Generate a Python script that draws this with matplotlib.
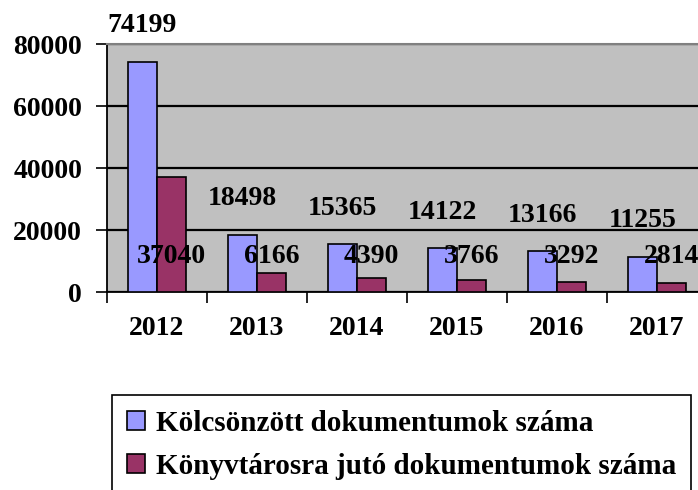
import numpy as np
import matplotlib
matplotlib.use('Agg')
import matplotlib.pyplot as plt

years = ['2012', '2013', '2014', '2015', '2016', '2017']
borrowed = [74199, 18498, 15365, 14122, 13166, 11255]
per_librarian = [37040, 6166, 4390, 3766, 3292, 2814]
series_names = ['Kölcsönzött dokumentumok száma',
                'Könyvtárosra jutó dokumentumok száma']

plt.rcParams['font.family'] = ['Liberation Serif', 'DejaVu Serif']
plt.rcParams['font.weight'] = 'bold'
plt.rcParams['font.size'] = 20

W, H = 698, 490
fig = plt.figure(figsize=(W / 100, H / 100), dpi=100)
# plot area runs past the right edge, like the cropped original
ax = fig.add_axes([107 / W, (H - 292) / H, 600 / W, 248 / H])
ax.set_facecolor('#C0C0C0')

x = np.arange(len(years))
w = 0.29
b1 = ax.bar(x - w / 2, borrowed, w, color='#9999FF', edgecolor='black', linewidth=1.2,
            label=series_names[0], zorder=3)
b2 = ax.bar(x + w / 2, per_librarian, w, color='#993366', edgecolor='black', linewidth=1.2,
            label=series_names[1], zorder=3)

for rect, v in zip(b1, borrowed):
    ax.annotate(str(v), (rect.get_x() + rect.get_width() / 2, v), xytext=(0, 26),
                textcoords='offset points', ha='center', va='center',
                fontweight='bold', zorder=5, annotation_clip=False)
for rect, v in zip(b2, per_librarian):
    ax.text(rect.get_x() + rect.get_width() / 2, 11300, str(v), ha='center', va='center',
            fontweight='bold', zorder=5)

ax.set_ylim(0, 80000)
ax.set_xlim(-0.5, len(years) - 0.5)
ax.set_yticks(np.arange(0, 80001, 20000))
ax.yaxis.grid(True, color='black', linewidth=1.6, zorder=1)
ax.set_axisbelow(True)

ax.set_xticks(x)
ax.set_xticklabels(years)
ax.set_xticks(np.arange(-0.5, len(years), 1.0), minor=True)
ax.tick_params(axis='x', which='major', length=0, pad=17)
ax.tick_params(axis='x', which='minor', length=8, width=1.2, direction='out')
ax.tick_params(axis='y', length=8, width=1.2, pad=10)

ax.spines['left'].set_color('black')
ax.spines['left'].set_linewidth(1.3)
ax.spines['bottom'].set_color('black')
ax.spines['bottom'].set_linewidth(1.3)
ax.spines['top'].set_color('#808080')
ax.spines['top'].set_linewidth(1.5)
ax.spines['right'].set_color('#808080')

leg = fig.legend(handles=[b1, b2], loc='upper left', bbox_to_anchor=(112 / W, 1 - 395 / H),
                 fancybox=False, edgecolor='black', framealpha=1, fontsize=21,
                 handlelength=0.62, handleheight=0.62, handletextpad=0.36, borderpad=0.52,
                 labelspacing=0.55, borderaxespad=0)
leg.get_frame().set_linewidth(1.2)

fig.savefig('out.png', dpi=100)
